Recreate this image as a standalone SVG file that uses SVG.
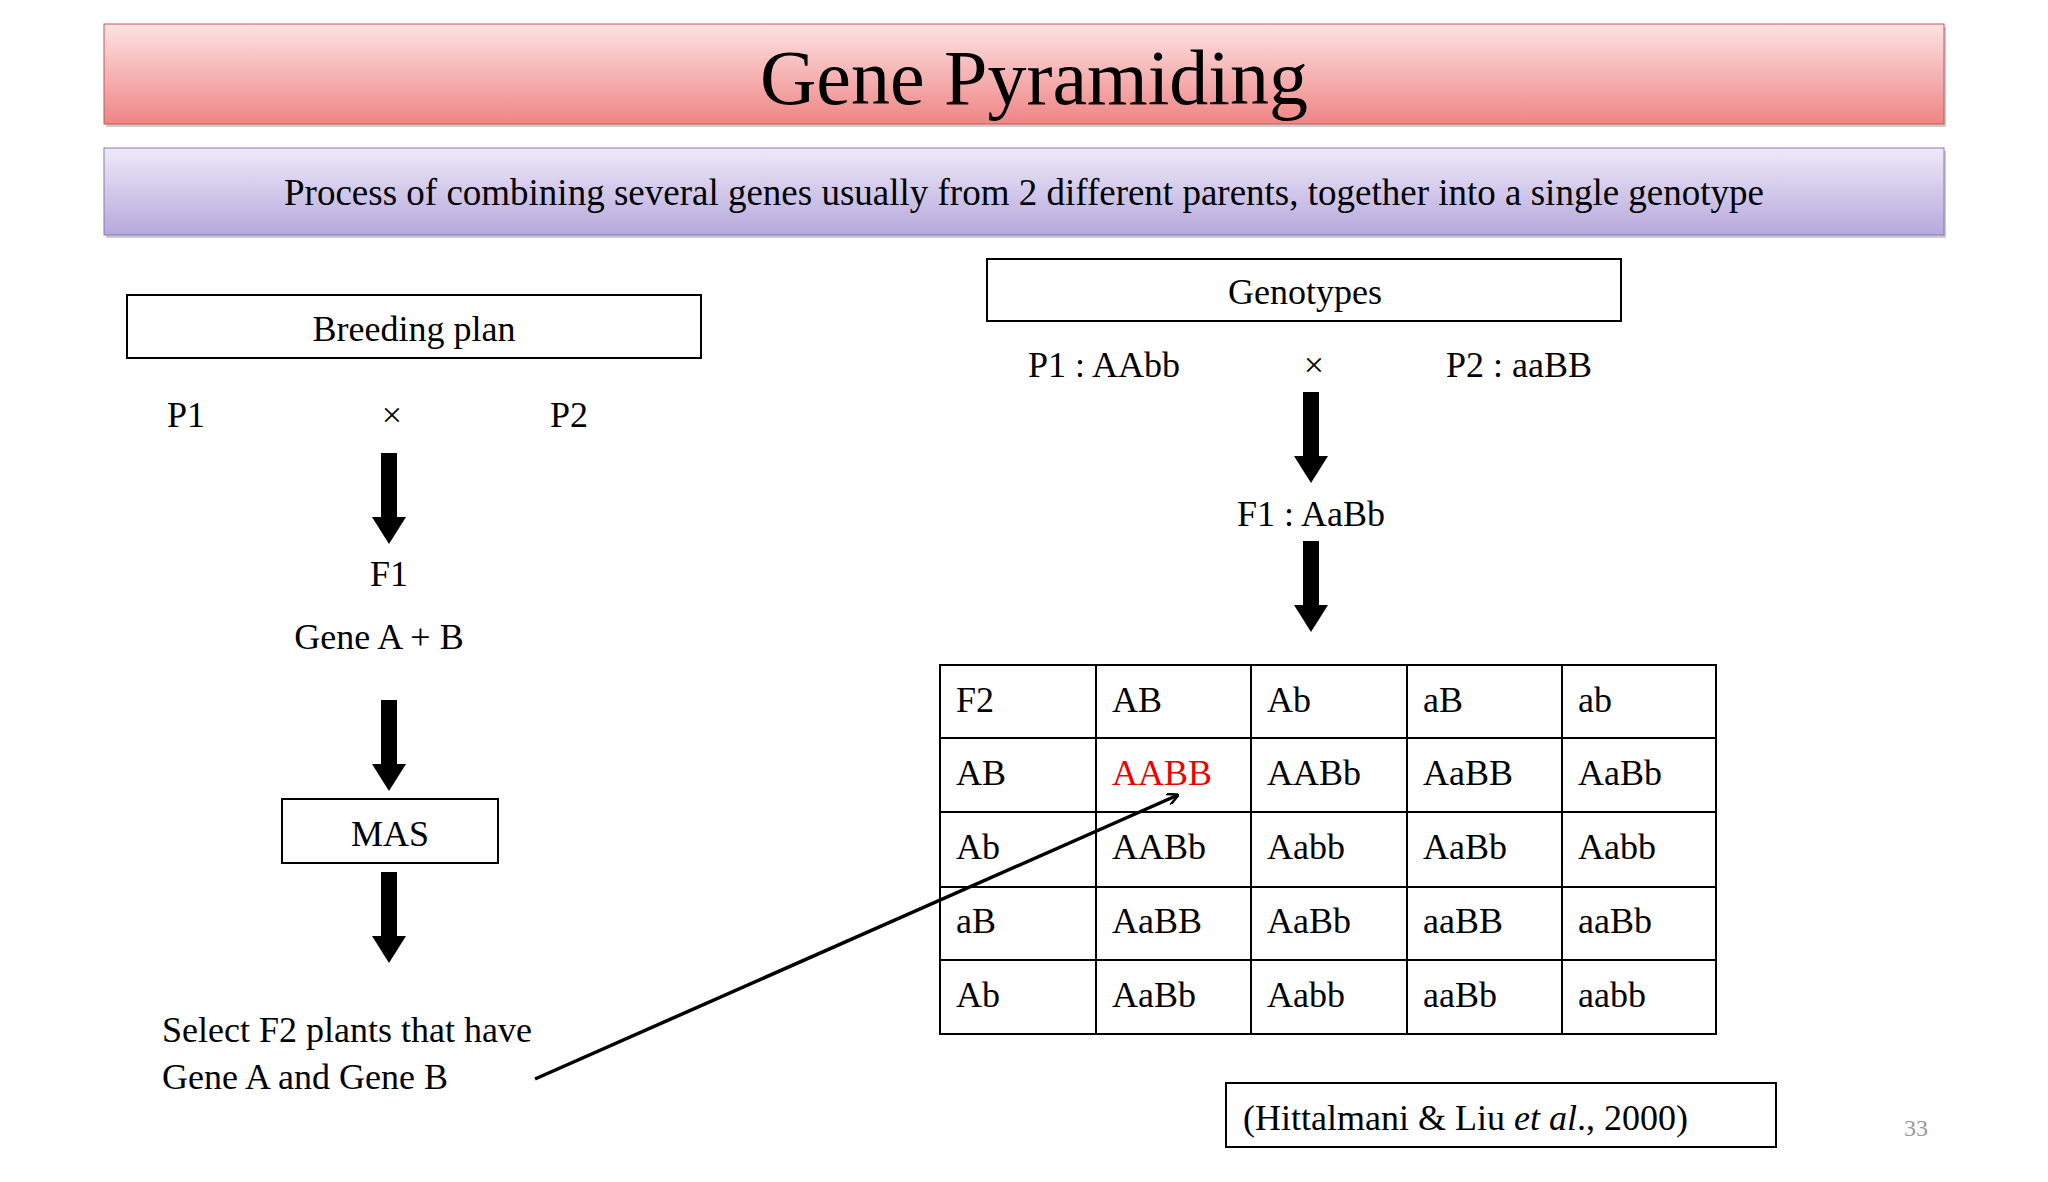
<svg xmlns="http://www.w3.org/2000/svg" width="2048" height="1182" viewBox="0 0 2048 1182">
<defs>
<linearGradient id="gr" x1="0" y1="0" x2="0" y2="1"><stop offset="0" stop-color="#fde3e3"/><stop offset="1" stop-color="#ef8585"/></linearGradient>
<linearGradient id="gp" x1="0" y1="0" x2="0" y2="1"><stop offset="0" stop-color="#eeeaf8"/><stop offset="1" stop-color="#b6a8dc"/></linearGradient>
<marker id="ah" viewBox="0 0 12 12" refX="11" refY="6" markerWidth="12" markerHeight="12" markerUnits="userSpaceOnUse" orient="auto"><path d="M0,0 L12,6 L0,12" fill="none" stroke="#000" stroke-width="2.5"/></marker>
<g id="down"><rect x="-8" y="0" width="16" height="66" fill="#000"/><polygon points="-17,64 17,64 0,91" fill="#000"/></g>
</defs>
<style>
text{font-family:"Liberation Serif","Times New Roman",serif;fill:#000}
.t{font-size:36px}
.b{fill:#fff;stroke:#000;stroke-width:2}
.g{fill:none;stroke:#000;stroke-width:2}
</style>
<rect width="2048" height="1182" fill="#fff"/>
<g id="title"><rect x="106" y="27" width="1840" height="100" fill="#999" opacity="0.5"/><rect x="104" y="24" width="1840" height="100" fill="url(#gr)" stroke="#c55" stroke-width="1"/><text x="1034" y="104" font-size="78" text-anchor="middle">Gene Pyramiding</text></g>
<g id="subtitle"><rect x="106" y="151" width="1840" height="87" fill="#999" opacity="0.5"/><rect x="104" y="148" width="1840" height="87" fill="url(#gp)" stroke="#8878b8" stroke-width="1"/><text x="1024" y="205" font-size="37" text-anchor="middle">Process of combining several genes usually  from 2 different parents, together into a single genotype</text></g>
<g id="breeding"><rect class="b" x="127" y="295" width="574" height="63"/><text class="t" x="414" y="341" text-anchor="middle">Breeding  plan</text></g>
<text class="t" x="167" y="427">P1</text><text class="t" x="392" y="427" text-anchor="middle">×</text><text class="t" x="550" y="427">P2</text>
<use href="#down" x="389" y="453"/>
<text class="t" x="389" y="586" text-anchor="middle">F1</text>
<text class="t" x="379" y="649" text-anchor="middle">Gene A + B</text>
<use href="#down" x="389" y="700"/>
<g id="mas"><rect class="b" x="282" y="799" width="216" height="64"/><text class="t" x="390" y="846" text-anchor="middle">MAS</text></g>
<use href="#down" x="389" y="872"/>
<text class="t" x="162" y="1042">Select F2 plants that have</text>
<text class="t" x="162" y="1089">Gene A and Gene B</text>
<g id="genotypes"><rect class="b" x="987" y="259" width="634" height="62"/><text class="t" x="1305" y="304" text-anchor="middle">Genotypes</text></g>
<text class="t" x="1028" y="377">P1 : AAbb</text><text class="t" x="1314" y="377" text-anchor="middle">×</text><text class="t" x="1446" y="377">P2 : aaBB</text>
<use href="#down" x="1311" y="392"/>
<text class="t" x="1311" y="526" text-anchor="middle">F1 : AaBb</text>
<use href="#down" x="1311" y="541"/>
<g id="table">
<rect class="g" x="940" y="665" width="776" height="369"/>
<path class="g" d="M1096,665V1034M1251,665V1034M1407,665V1034M1562,665V1034M940,738H1716M940,812H1716M940,887H1716M940,960H1716"/>
<g class="t">
<text x="956" y="712">F2</text><text x="1112" y="712">AB</text><text x="1267" y="712">Ab</text><text x="1423" y="712">aB</text><text x="1578" y="712">ab</text>
<text x="956" y="785">AB</text><text x="1112" y="785" style="fill:#e00">AABB</text><text x="1267" y="785">AABb</text><text x="1423" y="785">AaBB</text><text x="1578" y="785">AaBb</text>
<text x="956" y="859">Ab</text><text x="1112" y="859">AABb</text><text x="1267" y="859">Aabb</text><text x="1423" y="859">AaBb</text><text x="1578" y="859">Aabb</text>
<text x="956" y="933">aB</text><text x="1112" y="933">AaBB</text><text x="1267" y="933">AaBb</text><text x="1423" y="933">aaBB</text><text x="1578" y="933">aaBb</text>
<text x="956" y="1007">Ab</text><text x="1112" y="1007">AaBb</text><text x="1267" y="1007">Aabb</text><text x="1423" y="1007">aaBb</text><text x="1578" y="1007">aabb</text>
</g></g>
<g id="connectors"><line x1="535" y1="1079" x2="1178" y2="795" stroke="#000" stroke-width="3.5" marker-end="url(#ah)"/></g>
<g id="citation"><rect class="b" x="1226" y="1083" width="550" height="64"/><text class="t" x="1243" y="1130">(Hittalmani &amp; Liu  <tspan font-style="italic">et al</tspan>., 2000)</text></g>
<text x="1916" y="1136" font-size="24" text-anchor="middle" style="fill:#999">33</text>
</svg>
